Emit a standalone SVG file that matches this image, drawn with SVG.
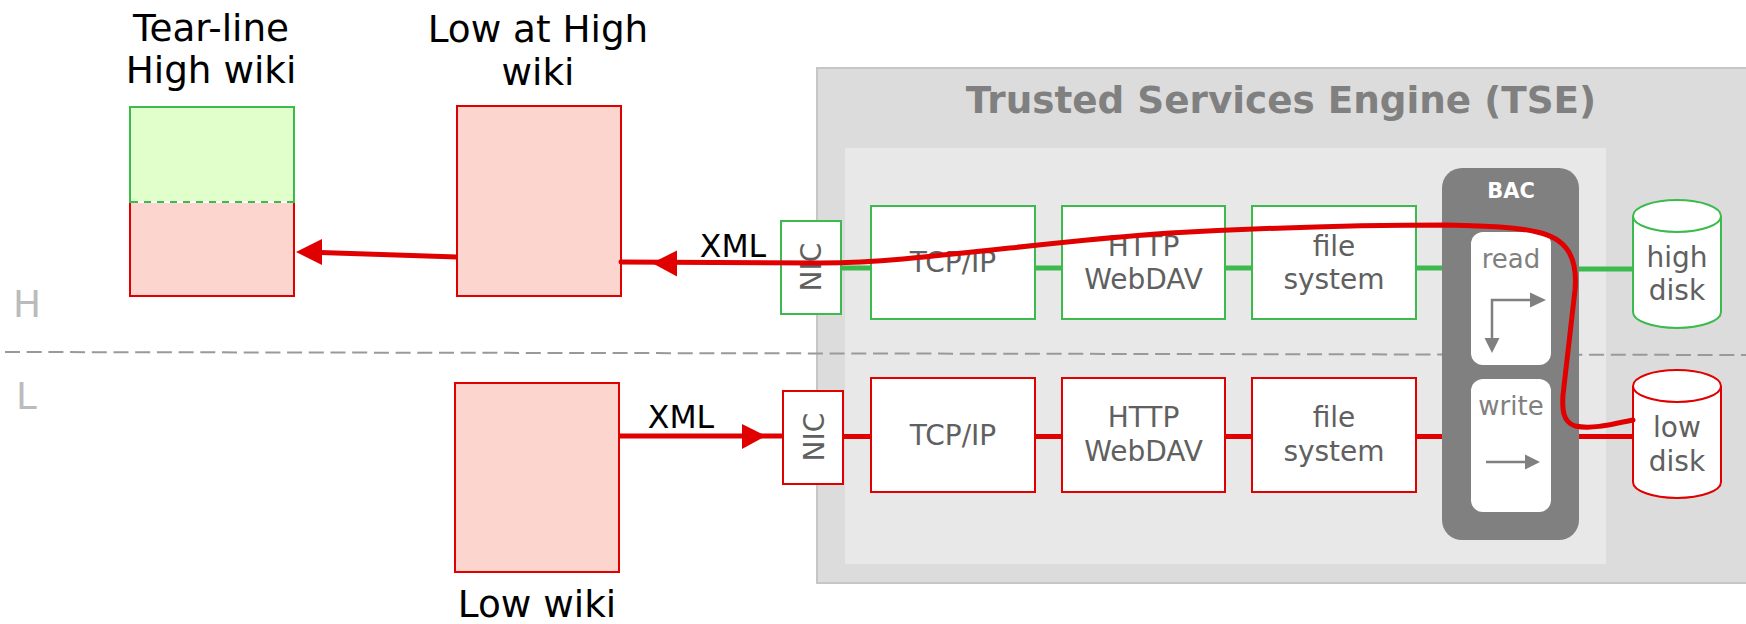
<svg xmlns="http://www.w3.org/2000/svg" width="1746" height="624" viewBox="0 0 1746 624">
<style>
text{font-family:"DejaVu Sans","Liberation Sans",sans-serif}
.lbl{font-size:37.33px;fill:#000;text-anchor:middle}
.xml{font-size:31.5px;fill:#000;text-anchor:middle}
.bt{font-size:28px;fill:#606060;text-anchor:middle}
.rw{font-size:26px;fill:#808080;text-anchor:middle}
.hl{font-size:37.33px;fill:#bbbbbb}
.gbox{fill:#fff;stroke:#3dba4e;stroke-width:2}
.rbox{fill:#fff;stroke:#e00000;stroke-width:2}
.wiki{fill:#fcd5cf;stroke:#e00000;stroke-width:2}
.gc{stroke:#3dba4e;stroke-width:5;fill:none}
.rc{stroke:#e00000;stroke-width:5;fill:none}
.ah{fill:#e00000}
.ga{stroke:#808080;stroke-width:2.5;fill:none}
.gh{fill:#808080}
</style>

<g id="tse">
<rect x="817" y="68" width="940" height="515" fill="#dcdcdc" stroke="#c6c6c6" stroke-width="2"/>
<rect x="845" y="148" width="761" height="416" fill="#e8e8e8"/>
<text x="1281" y="113" style="font-size:37.33px;font-weight:bold;fill:#808080;text-anchor:middle">Trusted Services Engine (TSE)</text>
</g>

<g id="levels">
<line x1="5" y1="352" x2="1746" y2="355" stroke="#999" stroke-width="2" stroke-dasharray="15 6.7"/>
<text class="hl" x="13" y="317">H</text>
<text class="hl" x="16" y="409">L</text>
</g>

<g id="tearline-wiki">
<rect x="130" y="202" width="164" height="94" class="wiki"/>
<rect x="130" y="107" width="164" height="95" fill="#e1ffca" stroke="#3dba4e" stroke-width="2"/>
<line x1="131" y1="202" x2="293" y2="202" stroke="#fff" stroke-width="2"/>
<line x1="131" y1="202" x2="293" y2="202" stroke="#3dba4e" stroke-width="2" stroke-dasharray="7 6"/>
<text class="lbl" x="211" y="41">Tear-line</text>
<text class="lbl" x="211" y="83">High wiki</text>
</g>

<g id="low-at-high-wiki">
<rect x="457" y="106" width="164" height="190" class="wiki"/>
<text class="lbl" x="538" y="42">Low at High</text>
<text class="lbl" x="538" y="85">wiki</text>
</g>

<g id="low-wiki">
<rect x="455" y="383" width="164" height="189" class="wiki"/>
<text class="lbl" x="537" y="617">Low wiki</text>
</g>

<g id="nic-high">
<rect x="781" y="221" width="60" height="93" class="gbox"/>
<text class="bt" transform="translate(821,267) rotate(-90)" x="0" y="0">NIC</text>
</g>
<g id="nic-low">
<rect x="783" y="391" width="60" height="93" class="rbox"/>
<text class="bt" transform="translate(823.5,437) rotate(-90)" x="0" y="0">NIC</text>
</g>

<g id="tcp-high">
<rect x="871" y="206" width="164" height="113" class="gbox"/>
<text class="bt" x="953" y="272">TCP/IP</text>
</g>
<g id="http-high">
<rect x="1062" y="206" width="163" height="113" class="gbox"/>
<text class="bt" x="1143.5" y="256">HTTP</text>
<text class="bt" x="1143.5" y="289">WebDAV</text>
</g>
<g id="fs-high">
<rect x="1252" y="206" width="164" height="113" class="gbox"/>
<text class="bt" x="1334" y="256">file</text>
<text class="bt" x="1334" y="289">system</text>
</g>

<g id="tcp-low">
<rect x="871" y="378" width="164" height="114" class="rbox"/>
<text class="bt" x="953" y="445">TCP/IP</text>
</g>
<g id="http-low">
<rect x="1062" y="378" width="163" height="114" class="rbox"/>
<text class="bt" x="1143.5" y="427">HTTP</text>
<text class="bt" x="1143.5" y="461">WebDAV</text>
</g>
<g id="fs-low">
<rect x="1252" y="378" width="164" height="114" class="rbox"/>
<text class="bt" x="1334" y="427">file</text>
<text class="bt" x="1334" y="461">system</text>
</g>

<g id="bac">
<rect x="1442" y="168" width="137" height="372" rx="20" fill="#808080"/>
<text x="1511" y="198" style="font-size:21px;font-weight:bold;fill:#fff;text-anchor:middle">BAC</text>
<rect x="1471" y="232" width="80" height="133" rx="12" fill="#fff"/>
<text class="rw" x="1511" y="268">read</text>
<path class="ga" d="M1492,339 L1492,300 L1531,300"/>
<polygon class="gh" points="1492,353 1484.5,338 1499.5,338"/>
<polygon class="gh" points="1546,300 1530,292.5 1530,307.5"/>
<rect x="1471" y="379" width="80" height="133" rx="12" fill="#fff"/>
<text class="rw" x="1511" y="415">write</text>
<line class="ga" x1="1486" y1="462" x2="1526" y2="462"/>
<polygon class="gh" points="1540,462 1525,454.5 1525,469.5"/>
</g>

<g id="high-disk">
<path d="M1633,216 L1633,312 A44,16 0 0 0 1721,312 L1721,216 A44,16 0 0 0 1633,216 Z" fill="#fff" stroke="#3dba4e" stroke-width="2"/>
<path d="M1633,216 A44,16 0 0 0 1721,216" fill="none" stroke="#3dba4e" stroke-width="2"/>
<text class="bt" x="1677" y="267">high</text>
<text class="bt" x="1677" y="300">disk</text>
</g>

<g id="low-disk">
<path d="M1633,386 L1633,482 A44,16 0 0 0 1721,482 L1721,386 A44,16 0 0 0 1633,386 Z" fill="#fff" stroke="#e00000" stroke-width="2"/>
<path d="M1633,386 A44,16 0 0 0 1721,386" fill="none" stroke="#e00000" stroke-width="2"/>
<text class="bt" x="1677" y="437">low</text>
<text class="bt" x="1677" y="471">disk</text>
</g>

<g id="connectors">
<line class="gc" x1="841" y1="268" x2="871" y2="268"/>
<line class="gc" x1="1035" y1="268" x2="1062" y2="268"/>
<line class="gc" x1="1225" y1="268" x2="1252" y2="268"/>
<line class="gc" x1="1416" y1="268" x2="1442" y2="268"/>
<line class="gc" x1="1579" y1="269" x2="1633" y2="269"/>
<line class="rc" x1="843" y1="436.5" x2="871" y2="436.5"/>
<line class="rc" x1="1035" y1="436.5" x2="1062" y2="436.5"/>
<line class="rc" x1="1225" y1="436.5" x2="1252" y2="436.5"/>
<line class="rc" x1="1416" y1="436.5" x2="1442" y2="436.5"/>
<line class="rc" x1="1579" y1="436.5" x2="1633" y2="436.5"/>
<line class="rc" x1="619" y1="436" x2="783" y2="436"/>
<polygon class="ah" points="766,436 742,424 742,449"/>
<text class="xml" x="681" y="428">XML</text>
<path class="rc" stroke-linejoin="round" stroke-linecap="round" d="M1633,420 C1605,426 1590,429 1575,426 C1563,422 1562,410 1563,395 L1575,290 C1578,255 1565,238 1537,232 C1515,227 1490,226 1447,225 C1380,225 1280,227 1170,233 C1080,239 1000,250 903,259 C870,262 850,263 820,263 L621,262"/>
<polygon class="ah" points="652,263 677,250.5 677,276.5"/>
<text class="xml" x="733" y="257">XML</text>
<line class="rc" x1="457" y1="257" x2="305" y2="252"/>
<polygon class="ah" points="296,252 322,239 322,265"/>
</g>
</svg>
